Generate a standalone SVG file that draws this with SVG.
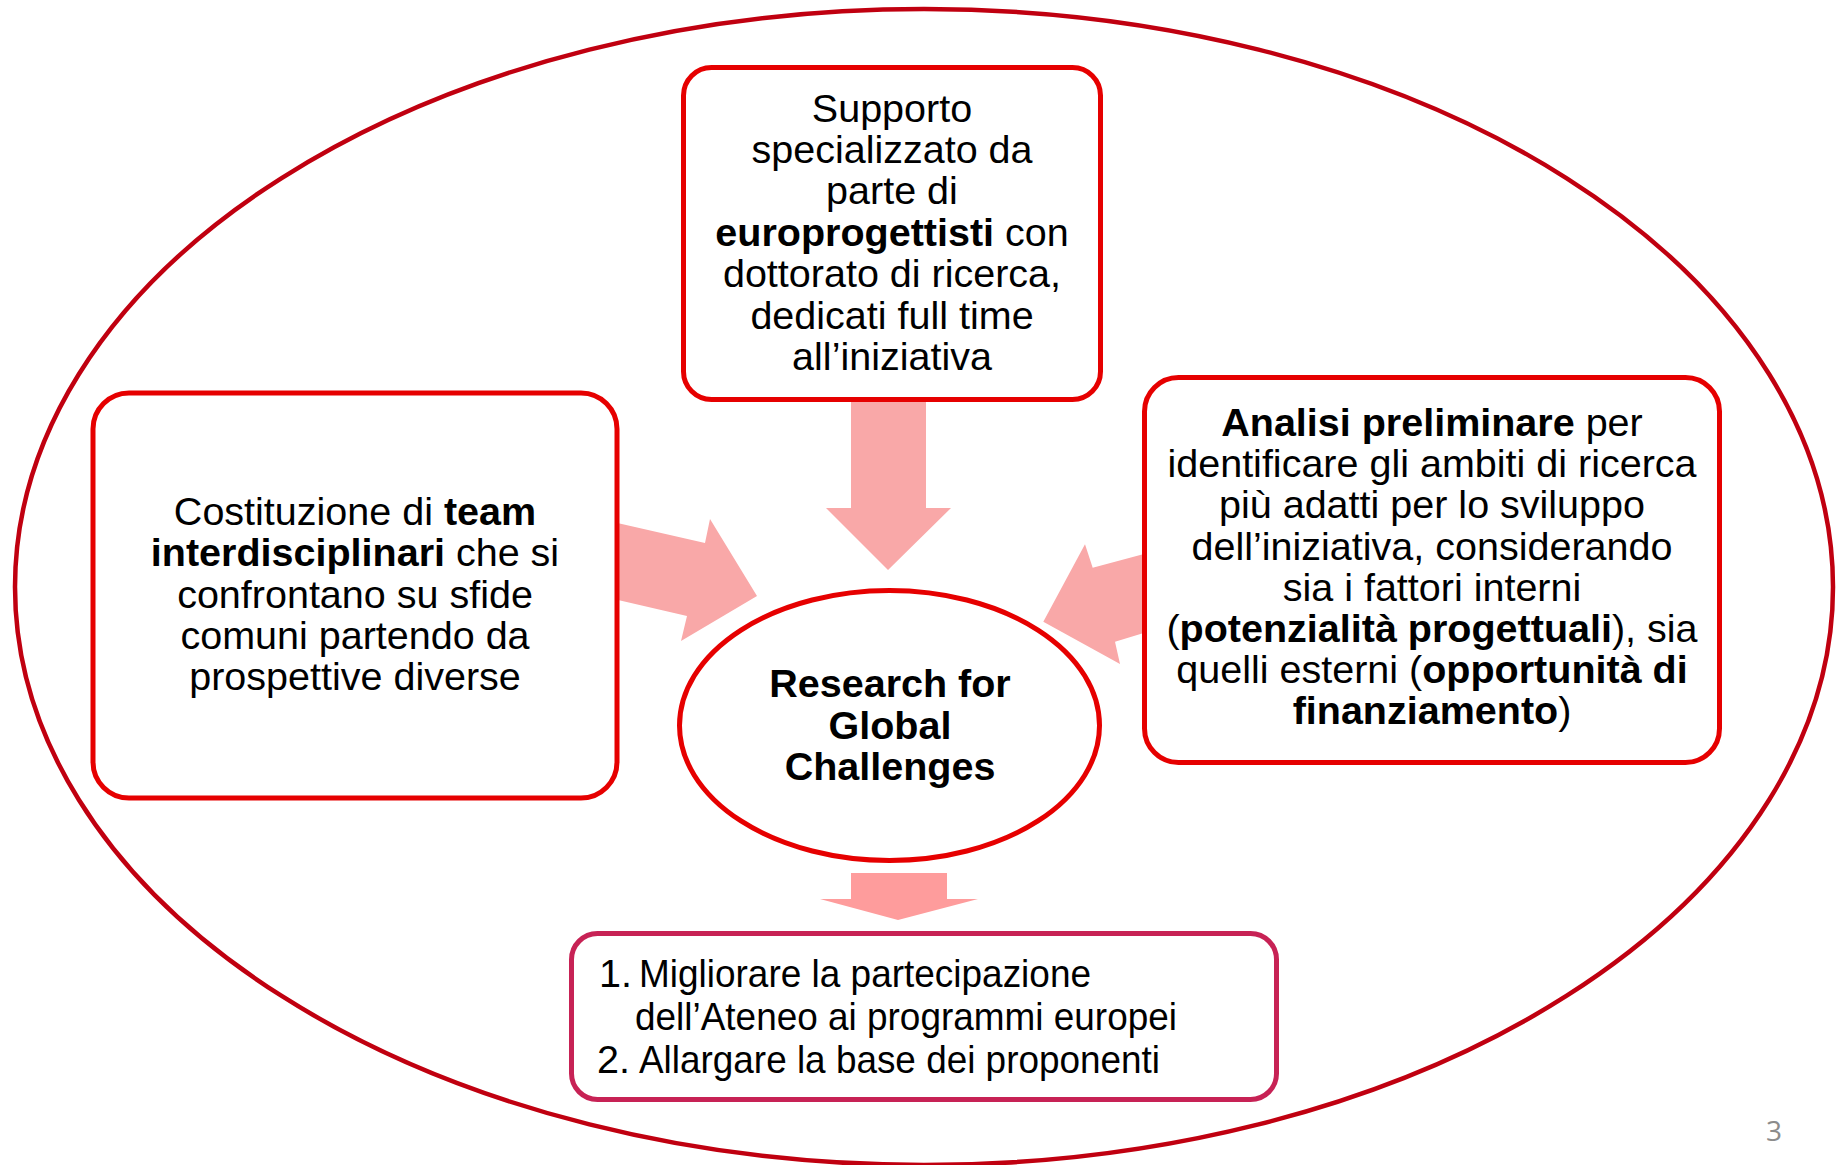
<svg xmlns="http://www.w3.org/2000/svg" width="1837" height="1165" viewBox="0 0 1837 1165">
<style>
.t{font-family:"Liberation Sans",Arial,Helvetica,sans-serif;font-size:39.5px;fill:#000}
.c{text-anchor:middle}
.b{font-weight:bold}
.box{fill:#fff;stroke:#E60000;stroke-width:5}
.arr{fill:#F9A8A8;stroke:none}
</style>
<rect width="1837" height="1165" fill="#fff"/>
<g id="frame">
<ellipse cx="924" cy="587" rx="909" ry="578" fill="none" stroke="#C00010" stroke-width="4.5"/>
</g>
<g id="connectors">
<polygon class="arr" points="851,395 926,395 926,508 951,508 888,570 826,508 851,508"/>
<polygon class="arr" points="590,516.7 705,543 710,519 757,596 681,641 687,616 590,593.6"/>
<polygon class="arr" points="1170,547 1092.7,567.7 1085,544.3 1043.3,621.7 1120,664 1115,641.7 1170,625"/>
<polygon points="851,873 947,873 947,899 978,899 898,920 820,899 851,899" fill="#FE9C9C"/>
</g>
<g id="node-top">
<rect class="box" x="683.5" y="67.5" width="417" height="332" rx="28"/>
<text class="t c" x="892" y="121.7">Supporto</text>
<text class="t c" x="892" y="163">specializzato da</text>
<text class="t c" x="892" y="204.4">parte di</text>
<text class="t c" x="892" y="245.8"><tspan class="b">europrogettisti</tspan> con</text>
<text class="t c" x="892" y="287.2">dottorato di ricerca,</text>
<text class="t c" x="892" y="328.6">dedicati full time</text>
<text class="t c" x="892" y="370">all’iniziativa</text>
</g>
<g id="node-left">
<rect class="box" x="93" y="393" width="524" height="405" rx="36"/>
<text class="t c" x="355" y="525">Costituzione di <tspan class="b">team</tspan></text>
<text class="t c" x="355" y="566.3"><tspan class="b">interdisciplinari</tspan> che si</text>
<text class="t c" x="355" y="607.6">confrontano su sfide</text>
<text class="t c" x="355" y="648.9">comuni partendo da</text>
<text class="t c" x="355" y="690.2">prospettive diverse</text>
</g>
<g id="node-right">
<rect class="box" x="1144.5" y="377.5" width="575" height="385" rx="34"/>
<text class="t c" x="1432" y="436"><tspan class="b">Analisi preliminare</tspan> per</text>
<text class="t c" x="1432" y="477.2">identificare gli ambiti di ricerca</text>
<text class="t c" x="1432" y="518.4">più adatti per lo sviluppo</text>
<text class="t c" x="1432" y="559.6">dell’iniziativa, considerando</text>
<text class="t c" x="1432" y="600.8">sia i fattori interni</text>
<text class="t c" x="1432" y="642">(<tspan class="b">potenzialità progettuali</tspan>), sia</text>
<text class="t c" x="1432" y="683.2">quelli esterni (<tspan class="b">opportunità di</tspan></text>
<text class="t c" x="1432" y="724.4"><tspan class="b">finanziamento</tspan>)</text>
</g>
<g id="node-center">
<ellipse cx="889.5" cy="725.5" rx="210" ry="135" fill="#fff" stroke="#E60000" stroke-width="5"/>
<text class="t c b" x="890" y="697.3">Research for</text>
<text class="t c b" x="890" y="738.6">Global</text>
<text class="t c b" x="890" y="780">Challenges</text>
</g>
<g id="node-bottom">
<rect x="571.5" y="933.5" width="705" height="166" rx="26" fill="#fff" stroke="#C72255" stroke-width="5"/>
<text class="t" x="599" y="987">1.</text>
<text class="t" x="639" y="987" textLength="452" lengthAdjust="spacingAndGlyphs">Migliorare la partecipazione</text>
<text class="t" x="635" y="1030" textLength="542" lengthAdjust="spacingAndGlyphs">dell’Ateneo ai programmi europei</text>
<text class="t" x="597" y="1073">2.</text>
<text class="t" x="639" y="1073" textLength="521" lengthAdjust="spacingAndGlyphs">Allargare la base dei proponenti</text>
</g>
<text x="1774" y="1141" font-family="'Open Sans',sans-serif" font-size="28" fill="#8C8C8C" text-anchor="middle">3</text>
</svg>
